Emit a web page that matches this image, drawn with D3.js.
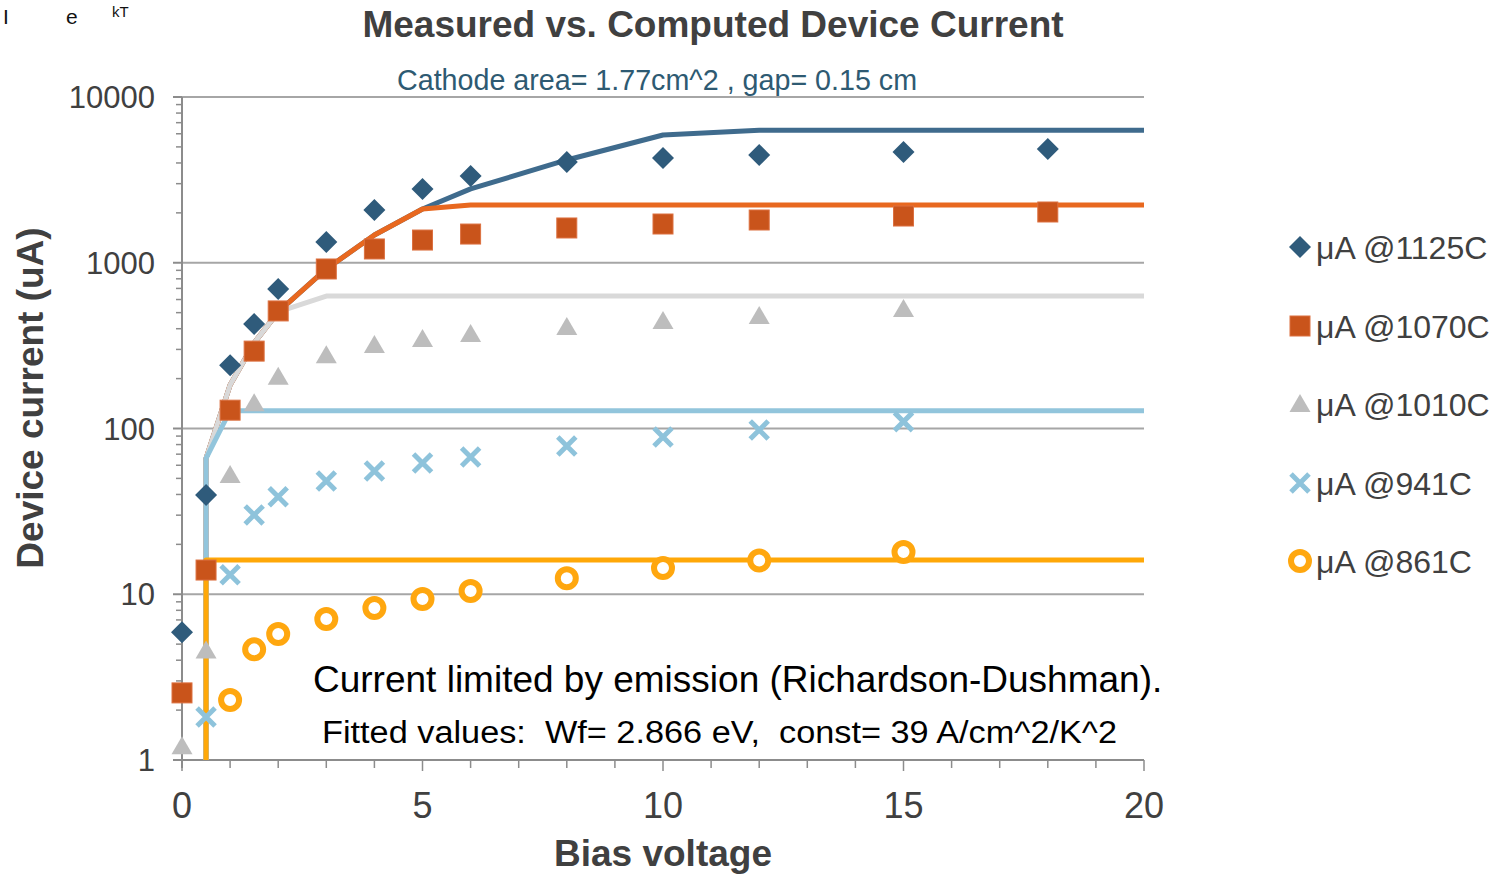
<!DOCTYPE html>
<html>
<head>
<meta charset="utf-8">
<script src="https://cdn.jsdelivr.net/npm/d3@7/dist/d3.min.js"></script>
<style>
  html, body { margin: 0; padding: 0; background: #fff; }
  svg { display: block; }
  text { font-family: "Liberation Sans", Arial, sans-serif; }
</style>
</head>
<body>
<svg id="chart" width="1504" height="874"></svg>
<script>
// ---- data -------------------------------------------------------------
const seriesNames = ["μA @1125C", "μA @1070C", "μA @1010C", "μA @941C", "μA @861C"];

// measured bias voltages (V)
const biasMeasured = [0, 0.5, 1, 1.5, 2, 3, 4, 5, 6, 8, 10, 12, 15, 18];
const meas1125 = [5.9, 39.7, 241, 427, 695, 1334, 2080, 2790, 3340, 4060, 4290, 4470, 4660, 4860];
const meas1070 = [2.54, 14.0, 129, 293, 512, 917, 1211, 1371, 1490, 1621, 1713, 1811, 1914, 2024];
const meas1010 = [1.21, 4.57, 52.4, 142, 205, 277, 319, 347, 372, 410, 445, 477, 526, null];
const meas941  = [null, 1.82, 13.1, 30.1, 38.7, 48.2, 55.4, 61.9, 67.3, 78.4, 88.9, 97.9, 110, null];
const meas861  = [null, null, 2.30, 4.65, 5.76, 7.09, 8.26, 9.36, 10.46, 12.5, 14.4, 16.0, 18.0, null];

// computed (space-charge / emission limited) currents
const biasComputed = [0.5, 1, 1.5, 2, 3, 4, 5, 6, 8, 10, 12, 15, 18, 20];
const fit1125 = [66, 183, 328, 505, 917, 1470, 2110, 2790, 4170, 5900, 6300, 6300, 6300, 6300];
const fit1070 = [66, 183, 328, 505, 917, 1470, 2110, 2230, 2230, 2230, 2230, 2230, 2230, 2230];
const fit1010 = [66, 183, 328, 505, 630, 630, 630, 630, 630, 630, 630, 630, 630, 630];
const fit941  = [66, 128, 128, 128, 128, 128, 128, 128, 128, 128, 128, 128, 128, 128];
const fit861  = [16.1, 16.1, 16.1, 16.1, 16.1, 16.1, 16.1, 16.1, 16.1, 16.1, 16.1, 16.1, 16.1, 16.1];

const xTickLabels = [0, 5, 10, 15, 20];
const yTickLabels = [1, 10, 100, 1000, 10000];

// ---- styling ----------------------------------------------------------
const markerColors = ["#2F5B7B", "#C9541B", "#BDBDBD", "#8EC3DB", "#FFA70F"];
const lineColors   = ["#3F6B8D", "#E8681F", "#D9D9D9", "#92C5DC", "#FFA808"];
const markerKinds  = ["diamond", "square", "triangle", "cross", "circle"];
const measured = [meas1125, meas1070, meas1010, meas941, meas861];
const computed = [fit1125, fit1070, fit1010, fit941, fit861];

const svg = d3.select("#chart");
const margin = { left: 182, top: 97 };
const W = 962, H = 663;

const x = d3.scaleLinear().domain([0, 20]).range([0, W]);
const y = d3.scaleLog().domain([1, 10000]).range([H, 0]);

const g = svg.append("g").attr("transform", `translate(${margin.left},${margin.top})`);

// gridlines at decades
g.append("g").selectAll("line")
  .data(yTickLabels.slice(1))
  .join("line")
  .attr("x1", 0).attr("x2", W)
  .attr("y1", d => y(d)).attr("y2", d => y(d))
  .attr("stroke", "#A6A6A6").attr("stroke-width", 2);

// y axis: major + minor ticks drawn left of the axis line
const yMinor = [];
for (let dec = 1; dec < 10000; dec *= 10) for (let k = 2; k <= 9; k++) yMinor.push(dec * k);
const yAxisG = g.append("g");
yAxisG.selectAll("line.minor").data(yMinor).join("line").attr("class", "minor")
  .attr("x1", -6).attr("x2", 0).attr("y1", d => y(d)).attr("y2", d => y(d))
  .attr("stroke", "#8C8C8C").attr("stroke-width", 1.5);
yAxisG.selectAll("line.major").data(yTickLabels).join("line").attr("class", "major")
  .attr("x1", -9).attr("x2", 0).attr("y1", d => y(d)).attr("y2", d => y(d))
  .attr("stroke", "#8C8C8C").attr("stroke-width", 2);
yAxisG.append("line").attr("x1", 0).attr("x2", 0).attr("y1", 0).attr("y2", H + 8)
  .attr("stroke", "#8C8C8C").attr("stroke-width", 2);
yAxisG.selectAll("text").data(yTickLabels).join("text")
  .attr("x", -27).attr("y", d => y(d) + 11)
  .attr("text-anchor", "end").attr("font-size", 31).attr("fill", "#404040")
  .text(d => d3.format("d")(d));

// x axis
const xTicks = d3.range(0, 21, 1);
const xAxisG = g.append("g").attr("transform", `translate(0,${H})`);
xAxisG.append("line").attr("x1", 0).attr("x2", W).attr("stroke", "#8C8C8C").attr("stroke-width", 2);
xAxisG.selectAll("line.tick").data(xTicks).join("line").attr("class", "tick")
  .attr("x1", d => x(d)).attr("x2", d => x(d))
  .attr("y1", 0).attr("y2", d => d % 5 === 0 ? 11 : 8)
  .attr("stroke", "#8C8C8C").attr("stroke-width", 1.5);
xAxisG.selectAll("text").data(xTickLabels).join("text")
  .attr("x", d => x(d)).attr("y", 58)
  .attr("text-anchor", "middle").attr("font-size", 36).attr("fill", "#404040")
  .text(d => d);

// computed curves: each rises from the axis floor at the first bias point
svg.append("clipPath").attr("id", "plotClip")
  .append("rect").attr("x", -4).attr("y", -4).attr("width", W + 10).attr("height", H + 4);
const lineGen = d3.line().x(d => d[0]).y(d => d[1]);
const linesG = g.append("g").attr("clip-path", "url(#plotClip)");
computed.forEach((vals, i) => {
  const pts = [[x(biasComputed[0]), H]].concat(vals.map((v, j) => [x(biasComputed[j]), y(v)]));
  linesG.append("path")
    .attr("d", lineGen(pts))
    .attr("fill", "none")
    .attr("stroke", lineColors[i])
    .attr("stroke-width", 5)
    .attr("stroke-linejoin", "round")
    .attr("stroke-linecap", "butt");
});

// marker shapes
function drawMarker(sel, kind, color) {
  if (kind === "diamond") {
    sel.append("path").attr("d", "M0,-11L11,0L0,11L-11,0Z").attr("fill", color);
  } else if (kind === "square") {
    sel.append("rect").attr("x", -10).attr("y", -10).attr("width", 20).attr("height", 20)
      .attr("fill", color).attr("stroke", "#DC7040").attr("stroke-width", 1);
  } else if (kind === "triangle") {
    sel.append("path").attr("d", "M0,-10L10.5,8L-10.5,8Z").attr("fill", color);
  } else if (kind === "cross") {
    sel.append("path").attr("d", "M-9,-9L9,9M-9,9L9,-9")
      .attr("stroke", color).attr("stroke-width", 5).attr("fill", "none");
  } else if (kind === "circle") {
    sel.append("circle").attr("r", 9).attr("fill", "#fff")
      .attr("stroke", color).attr("stroke-width", 6);
  }
}

const pointsG = g.append("g");
measured.forEach((vals, i) => {
  const data = vals.map((v, j) => ({ x: biasMeasured[j], v })).filter(d => d.v != null);
  pointsG.append("g").selectAll("g").data(data).join("g")
    .attr("transform", d => `translate(${x(d.x)},${y(d.v)})`)
    .each(function () { drawMarker(d3.select(this), markerKinds[i], markerColors[i]); });
});

// legend
const legendY = [247, 326, 404, 483, 561];
const legend = svg.append("g");
seriesNames.forEach((name, i) => {
  const row = legend.append("g").attr("transform", `translate(1300,${legendY[i]})`);
  drawMarker(row, markerKinds[i], markerColors[i]);
  row.append("text").attr("x", 16).attr("y", 11.5)
    .attr("font-size", 32).attr("fill", "#404040").text(name);
});

// titles
svg.append("text").attr("x", 713).attr("y", 37).attr("text-anchor", "middle")
  .attr("font-size", 37).attr("font-weight", "bold").attr("fill", "#404040")
  .text("Measured vs. Computed Device Current");

svg.append("text").attr("x", 657).attr("y", 90).attr("text-anchor", "middle")
  .attr("font-family", "Lato, 'Open Sans', sans-serif")
  .attr("font-size", 29).attr("fill", "#2E5A72")
  .attr("textLength", 520).attr("lengthAdjust", "spacingAndGlyphs")
  .text("Cathode area= 1.77cm^2 , gap= 0.15 cm");

svg.append("text").attr("x", 663).attr("y", 866).attr("text-anchor", "middle")
  .attr("font-size", 37).attr("font-weight", "bold").attr("fill", "#404040")
  .text("Bias voltage");

svg.append("text").attr("transform", "translate(43,398) rotate(-90)")
  .attr("text-anchor", "middle")
  .attr("font-size", 37).attr("font-weight", "bold").attr("fill", "#404040")
  .text("Device current (uA)");

// annotations
svg.append("text").attr("x", 313).attr("y", 692)
  .attr("font-size", 37).attr("fill", "#000")
  .text("Current limited by emission (Richardson-Dushman).");

svg.append("text").attr("x", 322).attr("y", 743)
  .attr("font-family", "Lato, 'Open Sans', sans-serif")
  .attr("font-size", 31).attr("fill", "#000")
  .style("white-space", "pre")
  .attr("textLength", 795).attr("lengthAdjust", "spacingAndGlyphs")
  .text("Fitted values:  Wf= 2.866 eV,  const= 39 A/cm^2/K^2");

// small equation fragment in the top-left corner
const eq = svg.append("g").attr("font-family", "'Liberation Serif', 'DejaVu Serif', serif").attr("fill", "#111");
eq.append("text").attr("x", 3).attr("y", 24).attr("font-size", 21).text("I");
eq.append("text").attr("x", 66).attr("y", 24).attr("font-size", 21).text("e");
eq.append("text").attr("x", 112).attr("y", 17).attr("font-size", 15).text("kT");
</script>
</body>
</html>
